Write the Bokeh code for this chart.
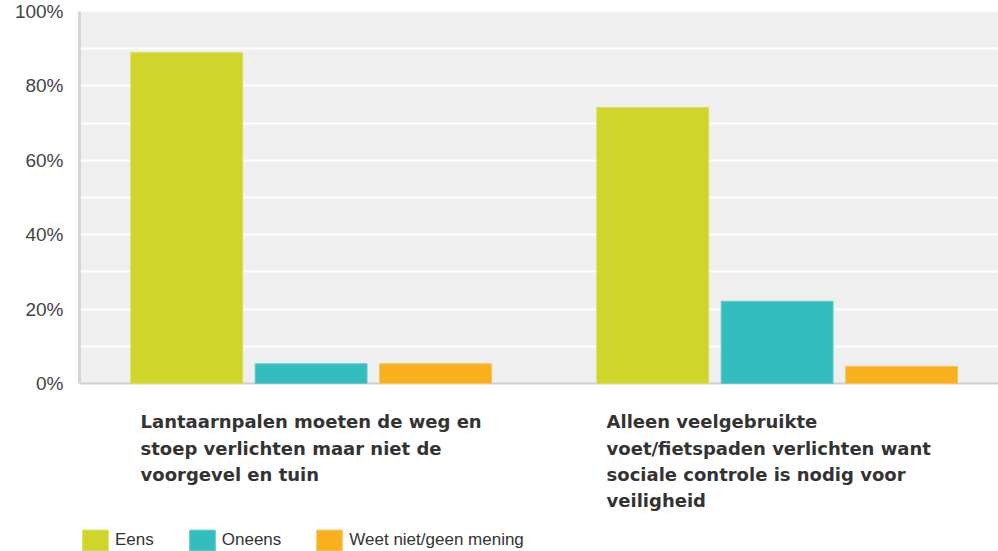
import numpy as np
from bokeh.plotting import figure
from bokeh.models import (Range1d, FixedTicker, NumeralTickFormatter,
                          Legend, LegendItem, BoxAnnotation, Span)
from bokeh.core.properties import value
from bokeh.embed import file_html
from bokeh.resources import INLINE

# ---- data ----
categories = [
    "Lantaarnpalen moeten de weg en\nstoep verlichten maar niet de\nvoorgevel en tuin",
    "Alleen veelgebruikte\nvoet/fietspaden verlichten want\nsociale controle is nodig voor\nveiligheid",
]
series_names = ["Eens", "Oneens", "Weet niet/geen mening"]
eens = [0.889, 0.742]
oneens = [0.053, 0.221]
weet = [0.053, 0.046]
colors = ["#cfd52a", "#33bdbf", "#f8b01f"]
edge_colors = ["#d9de5a", "#5ccbcd", "#f9c25a"]
y_ticks = [0.0, 0.2, 0.4, 0.6, 0.8, 1.0]
grid_ticks = [0.1, 0.2, 0.3, 0.4, 0.5, 0.6, 0.7, 0.8, 0.9, 1.0]

values = [eens, oneens, weet]

p = figure(width=998, height=551, output_backend="svg", toolbar_location=None,
           x_range=Range1d(0.003, 1.975), y_range=Range1d(-0.4516, 1.0),
           x_axis_location=None,
           min_border_left=79, min_border_right=0, min_border_top=11,
           min_border_bottom=0)
p.background_fill_color = "white"
p.border_fill_color = "white"
p.outline_line_color = None

# plot area background (0..100%)
p.add_layout(BoxAnnotation(bottom=0, top=1, fill_color="#efefef", fill_alpha=1,
                           line_color=None, level="image"))

centers = np.arange(len(categories)) + 0.5
bar_w = 0.24
step = 0.267
renderers = []
for k, (vals, c, ec) in enumerate(zip(values, colors, edge_colors)):
    r = p.vbar(x=centers + (k - 1) * step, top=vals, bottom=0, width=bar_w,
               fill_color=c, line_color=ec, line_width=1)
    renderers.append(r)

# grid
p.xgrid.visible = False
p.ygrid.ticker = FixedTicker(ticks=grid_ticks)
p.ygrid.grid_line_color = "white"
p.ygrid.grid_line_width = 2

# bottom border of the plot area
p.add_layout(Span(location=0, dimension="width", line_color="#d0d0d0",
                  line_width=2, level="underlay"))

# y axis
ya = p.yaxis[0]
ya.bounds = (0, 1)
ya.ticker = FixedTicker(ticks=y_ticks)
ya.formatter = NumeralTickFormatter(format="0%")
ya.axis_line_color = "#d6d6d6"
ya.axis_line_width = 3
ya.major_tick_line_color = None
ya.minor_tick_line_color = None
ya.major_tick_out = 0
ya.major_tick_in = 0
ya.major_label_standoff = 16
ya.major_label_text_font = "Liberation Sans"
ya.major_label_text_font_size = "19px"
ya.major_label_text_color = "#444444"
ya.major_label_text_baseline = "top"

# category labels (left-aligned text blocks under each group)
label_x = centers - 0.366
p.text(x=label_x, y=[-0.075] * len(categories), text=categories,
       text_align="left", text_baseline="top",
       text_font=value("DejaVu Sans"), text_font_style="bold",
       text_font_size="18px", text_color="#333333", text_line_height=1.25)

legend = Legend(items=[LegendItem(label=n, renderers=[r])
                       for n, r in zip(series_names, renderers)],
                orientation="horizontal", location=(0, -2),
                padding=0, margin=0, spacing=32, label_standoff=4,
                glyph_width=32, glyph_height=26,
                border_line_color=None, background_fill_alpha=0,
                label_text_font="Liberation Sans", label_text_font_size="17px",
                label_text_color="#333333")
p.add_layout(legend)

open("out.html", "w").write(file_html(p, INLINE))
